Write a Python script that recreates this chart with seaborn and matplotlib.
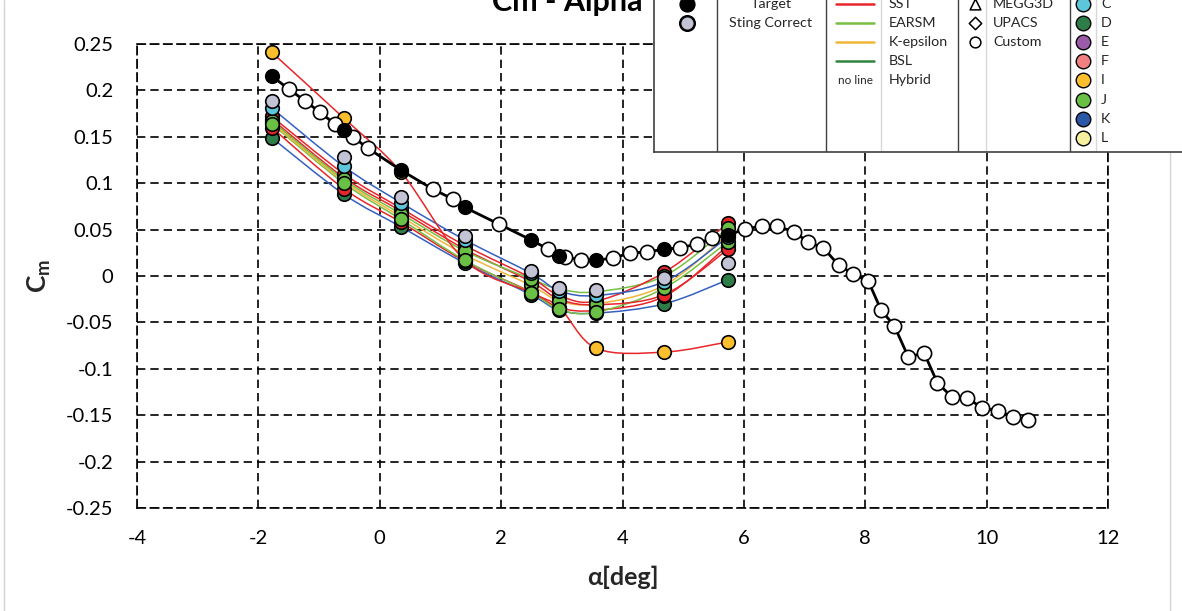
import numpy as np
import pandas as pd
import matplotlib
matplotlib.use("Agg")
import matplotlib.pyplot as plt
from matplotlib.path import Path
from matplotlib.patches import PathPatch
from matplotlib.lines import Line2D
import seaborn as sns

# ---------------- data ----------------
alpha_cfd = [-1.78, -0.59, 0.35, 1.40, 2.49, 2.96, 3.57, 4.69, 5.74]
target_cm = [0.2155, 0.157, 0.114, 0.074, 0.039, 0.0215, 0.017, 0.029, 0.044]

custom_alpha = [-1.50, -1.23, -0.99, -0.74, -0.44, -0.20, 0.87, 1.20, 1.96, 2.77, 3.05,
                3.31, 3.85, 4.13, 4.41, 4.95, 5.22, 5.48, 6.02, 6.30, 6.55, 6.83, 7.06,
                7.31, 7.56, 7.80, 8.05, 8.26, 8.48, 8.71, 8.97, 9.19, 9.43, 9.68, 9.93,
                10.19, 10.44, 10.68]
custom_cm = [0.2015, 0.1886, 0.1767, 0.1638, 0.1498, 0.1379, 0.0938, 0.0830, 0.0560,
             0.0291, 0.0205, 0.0172, 0.0194, 0.0248, 0.0259, 0.0302, 0.0345, 0.0409,
             0.0506, 0.0539, 0.0539, 0.0474, 0.0366, 0.0302, 0.0119, 0.0022, -0.0054,
             -0.0366, -0.0539, -0.0873, -0.0830, -0.1153, -0.1304, -0.1315, -0.1422,
             -0.1455, -0.1519, -0.1552]

sting_cm = [0.189, 0.128, 0.085, 0.043, 0.005, -0.013, -0.015, -0.002, 0.014]
c_blue_cm = [0.181, 0.118, 0.079, 0.039, 0.003, -0.016, -0.021, -0.006, 0.042]
a_sst1_cm = [0.172, 0.110, 0.073, 0.033, -0.002, -0.021, -0.027, 0.004, 0.057]
a_sst2_cm = [0.169, 0.106, 0.070, 0.029, -0.006, -0.025, -0.031, -0.020, 0.029]
a_sst3_cm = [0.160, 0.094, 0.058, 0.016, -0.017, -0.034, -0.037, -0.022, 0.033]
j_earsm1_cm = [0.167, 0.104, 0.067, 0.027, -0.003, -0.014, -0.017, 0.000, 0.052]
j_keps_cm = [0.165, 0.102, 0.064, 0.023, -0.010, -0.027, -0.030, -0.010, 0.045]
j_earsm2_cm = [0.164, 0.100, 0.061, 0.017, -0.018, -0.036, -0.039, -0.013, 0.037]
d_blue_cm = [0.149, 0.088, 0.053, 0.014, -0.020, -0.037, -0.040, -0.030, -0.004]
i_sst_cm = [0.241, 0.170, 0.112, 0.017, -0.018, -0.034, -0.078, -0.082, -0.071]

x_ticks = [-4, -2, 0, 2, 4, 6, 8, 10, 12]
y_ticks = [-0.25, -0.2, -0.15, -0.1, -0.05, 0, 0.05, 0.1, 0.15, 0.2, 0.25]
y_tick_labels = ["-0.25", "-0.2", "-0.15", "-0.1", "-0.05", "0", "0.05", "0.1",
                 "0.15", "0.2", "0.25"]

line_names = ["SST", "EARSM", "K-epsilon", "BSL", "Hybrid"]
shape_names = ["MEGG3D", "UPACS", "Custom"]
participant_names = ["C", "D", "E", "F", "I", "J", "K", "L"]

# ---------------- style ----------------
RED = "#e8262a"
LGREEN = "#78c043"
ORANGE = "#f2b53a"
DGREEN = "#2e8540"
BLUE = "#3560c0"
GREY = "#c3c3d6"
PCOL = {"C": "#5ec6da", "D": "#2e7d48", "E": "#9c5ba8", "F": "#f28080",
        "I": "#fbbf2e", "J": "#6abf45", "K": "#2b58a6", "L": "#f6f09e"}

sns.set_theme(style="white")
plt.rcParams["font.family"] = ["Lato", "DejaVu Sans"]
plt.rcParams["mathtext.fontset"] = "custom"
plt.rcParams["mathtext.bf"] = "Lato:bold"
plt.rcParams["mathtext.rm"] = "Lato"

W, H = 1182, 611
fig = plt.figure(figsize=(W / 100, H / 100), dpi=100, facecolor="white")
ax = fig.add_axes([137 / W, (H - 508) / H, 971 / W, 464 / H])
ax.set_facecolor("white")

# black target line through target + custom points
black_df = pd.DataFrame({"alpha": alpha_cfd + custom_alpha, "cm": target_cm + custom_cm})
black_df = black_df.sort_values("alpha")
sns.lineplot(data=black_df, x="alpha", y="cm", color="black", lw=2.0, sort=True,
             estimator=None, ax=ax, zorder=3)


def smooth_path(xs, ys):
    pts = np.column_stack([xs, ys]).astype(float)
    n = len(pts)
    verts = [pts[0]]
    codes = [Path.MOVETO]
    for i in range(n - 1):
        p0 = pts[i - 1] if i > 0 else pts[i]
        p1 = pts[i]
        p2 = pts[i + 1]
        p3 = pts[i + 2] if i + 2 < n else pts[i + 1]
        c1 = p1 + (p2 - p0) / 6.0
        c2 = p2 - (p3 - p1) / 6.0
        verts += [c1, c2, p2]
        codes += [Path.CURVE4] * 3
    return Path(verts, codes)


cfd_lines = [
    (d_blue_cm, BLUE),
    (a_sst3_cm, RED),
    (j_earsm2_cm, LGREEN),
    (j_keps_cm, ORANGE),
    (a_sst2_cm, RED),
    (j_earsm1_cm, LGREEN),
    (a_sst1_cm, RED),
    (c_blue_cm, BLUE),
    (i_sst_cm, RED),
]
for vals, col in cfd_lines:
    ax.add_patch(PathPatch(smooth_path(alpha_cfd, vals), facecolor="none",
                           edgecolor=col, lw=1.1, zorder=2))

ms = 95
marker_series = [
    (i_sst_cm, PCOL["I"]),
    (d_blue_cm, PCOL["D"]),
    (a_sst3_cm, RED),
    (a_sst2_cm, RED),
    (a_sst1_cm, RED),
    (j_keps_cm, PCOL["J"]),
    (j_earsm1_cm, PCOL["J"]),
    (j_earsm2_cm, PCOL["J"]),
    (c_blue_cm, PCOL["C"]),
    (sting_cm, GREY),
]
z = 4
for vals, col in marker_series:
    sns.scatterplot(x=alpha_cfd, y=vals, color=col, s=ms, edgecolor="black",
                    linewidth=1.2, ax=ax, zorder=z)
    z += 0.01

sns.scatterplot(x=custom_alpha, y=custom_cm, color="white", s=ms + 10, edgecolor="black",
                linewidth=1.2, ax=ax, zorder=5)
sns.scatterplot(x=alpha_cfd, y=target_cm, color="black", s=ms, edgecolor="black",
                linewidth=1.2, ax=ax, zorder=5.1)

ax.set_xlim(-4, 12)
ax.set_ylim(-0.25, 0.25)
ax.set_xticks(x_ticks)
ax.set_xticklabels([str(t) for t in x_ticks], fontsize=14.5)
ax.set_yticks(y_ticks)
ax.set_yticklabels(y_tick_labels, fontsize=14.5)
ax.grid(True, color="black", lw=1.2, linestyle=(0, (5, 3)))
for sp in ax.spines.values():
    sp.set_visible(True)
    sp.set_color("black")
    sp.set_linewidth(1.2)
    sp.set_linestyle((0, (5, 3)))
ax.tick_params(direction="in", length=4, width=1, color="black", labelcolor="black")
ax.tick_params(axis="y", pad=17)
ax.tick_params(axis="x", pad=16)
ax.set_xlabel("α[deg]", fontsize=18, fontweight="bold", labelpad=13)
ax.set_ylabel(r"$\mathbf{C}_\mathbf{m}$", fontsize=19, labelpad=9)

# title (partially hidden under the legend, as in the source)
fig.text(492 / W, 1 - 11 / H, "Cm - Alpha", fontsize=22, fontweight="bold",
         ha="left", va="baseline", color="black")

# figure border lines
fig.add_artist(Line2D([4 / W, 4 / W], [0, 1], color="#d4d4d4", lw=1, transform=fig.transFigure))
fig.add_artist(Line2D([1170 / W, 1170 / W], [0, 1 - 152 / H], color="#d4d4d4", lw=1,
                      transform=fig.transFigure))

# ---------------- legend box ----------------
L0, R0, B0, T0 = 654, 1200, 152, -40
lg = fig.add_axes([L0 / W, (H - B0) / H, (R0 - L0) / W, (B0 - T0) / H], zorder=10)
lg.set_xlim(L0, R0)
lg.set_ylim(B0, T0)
lg.set_facecolor("white")
lg.set_xticks([])
lg.set_yticks([])
for sp in lg.spines.values():
    sp.set_color("#404040")
    sp.set_linewidth(1.2)

for xv in [717, 826, 958, 1070]:
    lg.plot([xv, xv], [T0, B0], color="#404040", lw=1.0)
for xv in [881, 986, 1096]:
    lg.plot([xv, xv], [T0, B0], color="#d8d8d8", lw=1.0)

row = lambda i: 4 + 19.1 * i
fs = 10.3
lg.scatter([687], [row(0)], s=110, color="black", edgecolor="black", lw=1.2, zorder=3)
lg.scatter([687], [row(1)], s=110, color=GREY, edgecolor="black", lw=1.8, zorder=3)
lg.text(771, row(0), "Target", ha="center", va="center", fontsize=fs)
lg.text(771, row(1), "Sting Correct", ha="center", va="center", fontsize=fs)

for i, (nm, col) in enumerate(zip(line_names[:4], [RED, LGREEN, ORANGE, DGREEN])):
    lg.plot([836, 874], [row(i), row(i)], color=col, lw=1.8)
for i, nm in enumerate(line_names):
    lg.text(889, row(i), nm, ha="left", va="center", fontsize=fs)
lg.text(855, row(4), "no line", ha="center", va="center", fontsize=8.5)

for i, (nm, mk) in enumerate(zip(shape_names, ["^", "D", "o"])):
    lg.scatter([975], [row(i)], s=60 if mk != "D" else 40, marker=mk, facecolor="white",
               edgecolor="black", lw=1.1, zorder=3)
    lg.text(993, row(i), nm, ha="left", va="center", fontsize=fs)

for i, nm in enumerate(participant_names):
    lg.scatter([1083], [row(i)], s=110, color=PCOL[nm], edgecolor="black", lw=1.0, zorder=3)
    lg.text(1101, row(i), nm, ha="left", va="center", fontsize=fs)

fig.savefig("out.png", dpi=100, facecolor="white")
